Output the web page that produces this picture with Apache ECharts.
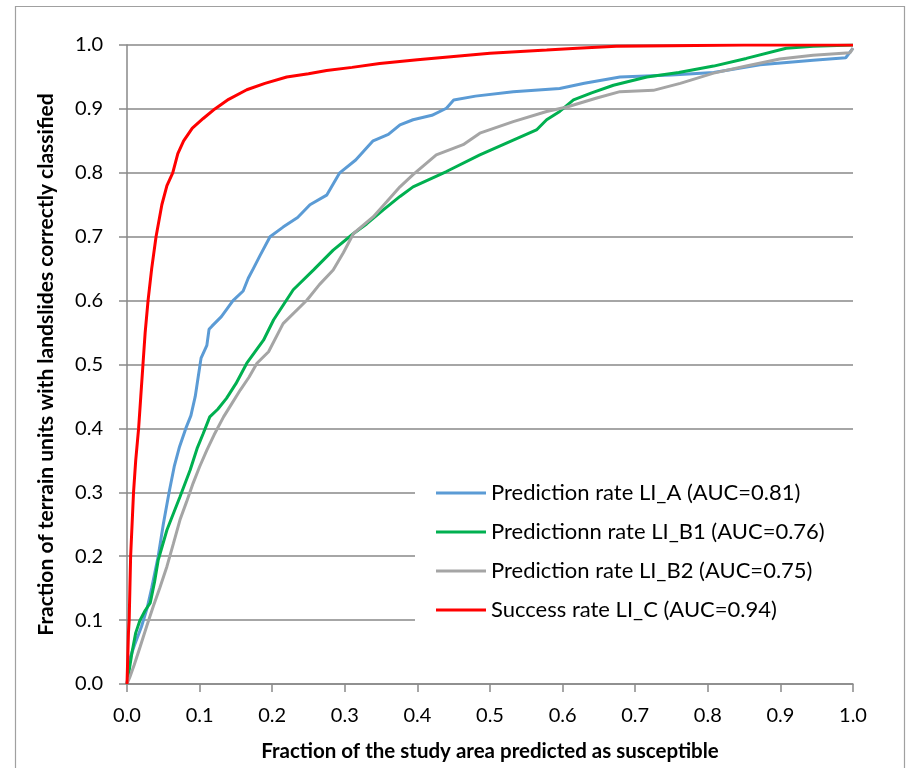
<!DOCTYPE html>
<html>
<head>
<meta charset="utf-8">
<script src="https://cdn.jsdelivr.net/npm/echarts@6/dist/echarts.min.js"></script>
<style>
html,body{margin:0;padding:0;background:#fff;}
#chart{width:910px;height:768px;}
</style>
</head>
<body>
<div id="chart"></div>
<script>
var seriesNames = [
  'Prediction rate LI_A (AUC=0.81)',
  'Predictionn rate LI_B1 (AUC=0.76)',
  'Prediction rate LI_B2 (AUC=0.75)',
  'Success rate LI_C (AUC=0.94)'
];
var seriesColors = ['#5B9BD5', '#00B050', '#A5A5A5', '#FF0000'];

var lineA = [[0,0],[0.004,0.04],[0.01,0.06],[0.02,0.09],[0.028,0.12],[0.034,0.15],[0.043,0.20],[0.05,0.25],[0.058,0.30],[0.065,0.34],[0.072,0.37],[0.081,0.40],[0.088,0.42],[0.094,0.45],[0.098,0.48],[0.102,0.51],[0.11,0.53],[0.113,0.555],[0.117,0.56],[0.13,0.575],[0.146,0.60],[0.16,0.615],[0.167,0.635],[0.174,0.65],[0.183,0.67],[0.197,0.70],[0.215,0.715],[0.235,0.73],[0.252,0.75],[0.275,0.765],[0.293,0.80],[0.315,0.82],[0.339,0.85],[0.36,0.86],[0.376,0.875],[0.394,0.883],[0.42,0.89],[0.44,0.901],[0.45,0.914],[0.48,0.92],[0.532,0.927],[0.596,0.932],[0.63,0.94],[0.679,0.95],[0.75,0.953],[0.808,0.957],[0.872,0.969],[0.945,0.976],[0.99,0.98],[1.0,0.995]];

var lineB1 = [[0,0],[0.007,0.05],[0.012,0.08],[0.018,0.10],[0.025,0.115],[0.032,0.127],[0.038,0.16],[0.043,0.194],[0.055,0.241],[0.065,0.27],[0.073,0.293],[0.087,0.335],[0.097,0.37],[0.105,0.392],[0.114,0.418],[0.125,0.43],[0.137,0.447],[0.15,0.47],[0.165,0.502],[0.188,0.538],[0.202,0.57],[0.229,0.617],[0.257,0.648],[0.284,0.679],[0.312,0.705],[0.33,0.72],[0.353,0.742],[0.376,0.763],[0.394,0.778],[0.44,0.802],[0.486,0.828],[0.532,0.851],[0.564,0.867],[0.578,0.883],[0.596,0.896],[0.615,0.914],[0.64,0.925],[0.67,0.937],[0.716,0.950],[0.76,0.957],[0.808,0.967],[0.853,0.979],[0.908,0.995],[0.945,0.998],[1.0,1.0]];

var lineB2 = [[0,0],[0.004,0.011],[0.01,0.03],[0.018,0.058],[0.027,0.09],[0.036,0.121],[0.045,0.15],[0.055,0.184],[0.064,0.22],[0.073,0.257],[0.082,0.285],[0.091,0.314],[0.10,0.34],[0.110,0.366],[0.12,0.39],[0.133,0.418],[0.145,0.44],[0.156,0.46],[0.168,0.48],[0.179,0.502],[0.195,0.52],[0.215,0.564],[0.248,0.601],[0.265,0.625],[0.284,0.648],[0.298,0.675],[0.312,0.705],[0.339,0.731],[0.358,0.755],[0.376,0.778],[0.394,0.797],[0.426,0.828],[0.463,0.844],[0.486,0.862],[0.532,0.880],[0.578,0.896],[0.606,0.903],[0.647,0.917],[0.679,0.927],[0.725,0.929],[0.762,0.940],[0.808,0.956],[0.853,0.967],[0.899,0.978],[0.945,0.984],[0.996,0.988],[1.0,0.995]];

var lineC = [[0,0],[0.002,0.08],[0.003,0.10],[0.004,0.15],[0.005,0.20],[0.007,0.25],[0.009,0.30],[0.012,0.35],[0.016,0.40],[0.019,0.45],[0.022,0.50],[0.025,0.55],[0.029,0.60],[0.034,0.65],[0.040,0.70],[0.048,0.75],[0.055,0.78],[0.063,0.80],[0.070,0.83],[0.078,0.85],[0.090,0.87],[0.105,0.885],[0.121,0.90],[0.140,0.915],[0.165,0.93],[0.19,0.94],[0.22,0.95],[0.25,0.955],[0.275,0.96],[0.31,0.965],[0.348,0.971],[0.40,0.977],[0.45,0.982],[0.50,0.987],[0.578,0.992],[0.62,0.995],[0.674,0.998],[0.75,0.999],[0.85,1.0],[1.0,1.0]];

var xTitle = 'Fraction of the study area predicted as susceptible';
var yTitle = 'Fraction of terrain units with landslides correctly classified';

var dataSets = [lineA, lineB1, lineB2, lineC];
var FONT = 'Lato';
var chart = echarts.init(document.getElementById('chart'), null, {renderer: 'canvas'});

var series = dataSets.map(function (d, i) {
  return {
    name: seriesNames[i],
    type: 'line',
    data: d,
    showSymbol: false,
    symbol: 'none',
    smooth: false,
    animation: false,
    lineStyle: {color: seriesColors[i], width: 3},
    itemStyle: {color: seriesColors[i]},
    z: 3 + i
  };
});

chart.setOption({
  animation: false,
  backgroundColor: '#ffffff',
  grid: {left: 127, right: 57, top: 45, bottom: 84, containLabel: false},
  xAxis: {
    type: 'value', min: 0, max: 1, interval: 0.1,
    name: xTitle, nameLocation: 'middle', nameGap: 57,
    nameTextStyle: {fontFamily: FONT, fontWeight: 'bold', fontSize: 20.5, color: '#000'},
    axisLine: {show: true, lineStyle: {color: '#898989', width: 1.5}},
    axisTick: {show: true, length: 8, inside: false, lineStyle: {color: '#898989', width: 1.5}},
    axisLabel: {fontFamily: FONT, fontSize: 20, color: '#000', margin: 22,
      formatter: function (v) { return v.toFixed(1); }},
    splitLine: {show: false}
  },
  yAxis: {
    type: 'value', min: 0, max: 1, interval: 0.1,
    name: yTitle, nameLocation: 'middle', nameGap: 70, nameRotate: 90,
    nameTextStyle: {fontFamily: FONT, fontWeight: 'bold', fontSize: 21, color: '#000'},
    axisLine: {show: true, lineStyle: {color: '#898989', width: 1.5}},
    axisTick: {show: true, length: 8, lineStyle: {color: '#898989', width: 1.5}},
    axisLabel: {fontFamily: FONT, fontSize: 20, color: '#000', margin: 24,
      formatter: function (v) { return v.toFixed(1); }},
    splitLine: {show: true, lineStyle: {color: '#898989', width: 1.5}}
  },
  legend: {
    show: true,
    orient: 'vertical',
    left: 436, top: 482,
    padding: 0,
    itemGap: 17,
    itemWidth: 50, itemHeight: 3,
    icon: 'rect',
    textStyle: {fontFamily: FONT, fontSize: 22, color: '#000'},
    data: seriesNames.map(function (n, i) { return {name: n, icon: 'rect', itemStyle: {color: seriesColors[i]}}; }),
    selectedMode: false
  },
  graphic: [
    {type: 'rect', z: 1, silent: true,
     shape: {x: 415, y: 470, width: 438, height: 180},
     style: {fill: '#ffffff'}},
    {type: 'rect', z: 0, silent: true,
     shape: {x: 15.5, y: 6.5, width: 889, height: 780},
     style: {fill: 'none', stroke: '#a0a0a0', lineWidth: 1.2}}
  ],
  series: series
});
</script>
</body>
</html>
